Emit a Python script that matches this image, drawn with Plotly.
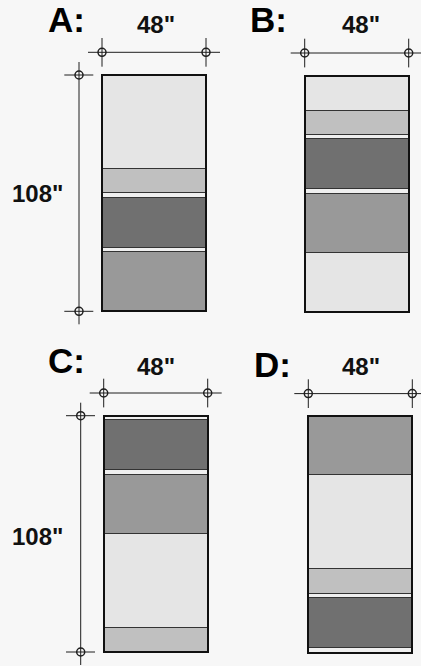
import plotly.graph_objects as go

# ---------------- data ----------------
panels = ["A", "B", "C", "D"]
panel_width_in = 48
panel_height_in = 108

bands_A = [43, 11, 2, 23, 2, 27]
kinds_A = ["light", "lightmid", "stripe", "dark", "stripe", "mid"]
bands_B = [16, 11, 2, 23, 2, 27, 27]
kinds_B = ["light", "lightmid", "stripe", "dark", "stripe", "mid", "light"]
bands_C = [2, 23, 2, 27, 43, 11]
kinds_C = ["stripe", "dark", "stripe", "mid", "light", "lightmid"]
bands_D = [27, 43, 11, 2, 23, 2]
kinds_D = ["mid", "light", "lightmid", "stripe", "dark", "stripe"]

# ---------------- styles / layout ----------------
W, H = 421, 666
SX = 104 / 48.0     # px per inch horizontally
SY = 236.3 / 108.0  # px per inch vertically
BG = "#f7f7f7"
INK = "#1e1e1e"
colors = {"light": "#e5e5e5", "lightmid": "#c0c0c0", "stripe": "#efefef",
          "dark": "#707070", "mid": "#999999"}

# px positions: rect left/top (outline centre), label centres
layout_px = {
    "A": dict(left=102, top=75, lab=(66.5, 20), w=(155.5, 25), h=(37.5, 193), vdim=True),
    "B": dict(left=304.7, top=75.7, lab=(268, 20), w=(360.5, 25), h=None, vdim=False),
    "C": dict(left=103.7, top=415.7, lab=(66.7, 360), w=(156, 366), h=(37.5, 536), vdim=True),
    "D": dict(left=308.3, top=416.3, lab=(272, 364.5), w=(360.5, 366), h=None, vdim=False),
}
bands = {"A": (bands_A, kinds_A), "B": (bands_B, kinds_B),
         "C": (bands_C, kinds_C), "D": (bands_D, kinds_D)}


def ix(px):
    return px / SX


def iy(py):
    return py / SY


fig = go.Figure()
annotations = []

for p in panels:
    L = layout_px[p]
    x0 = ix(L["left"])
    y0 = iy(L["top"])
    cx = x0 + panel_width_in / 2
    heights, kinds = bands[p]
    bases = []
    acc = y0
    for h in heights:
        bases.append(acc)
        acc += h
    fig.add_trace(go.Bar(
        x=[cx] * len(heights), y=heights, base=bases,
        width=[panel_width_in] * len(heights),
        marker=dict(color=[colors[k] for k in kinds],
                    line=dict(color="#333333", width=1)),
        hoverinfo="skip", showlegend=False))
    # outer outline
    fig.add_trace(go.Bar(
        x=[cx], y=[panel_height_in], base=[y0], width=[panel_width_in],
        marker=dict(color="rgba(0,0,0,0)", line=dict(color="#111111", width=2)),
        hoverinfo="skip", showlegend=False))

    x1 = x0 + panel_width_in
    y1 = y0 + panel_height_in
    # horizontal dimension line
    dy = y0 - iy(22.7)
    lx, ly = [], []
    lx += [x0 - ix(14), x1 + ix(14), None]
    ly += [dy, dy, None]
    for xx in (x0, x1):
        lx += [xx, xx, None]
        ly += [y0 - iy(37), y0 - iy(8.3), None]
    mx = [x0, x1]
    my = [dy, dy]
    if L["vdim"]:
        vx = x0 - ix(23)
        lx += [vx, vx, None]
        ly += [y0 - iy(13), y1 + iy(13), None]
        for yy in (y0, y1):
            lx += [x0 - ix(37.7), x0 - ix(8.7), None]
            ly += [yy, yy, None]
        mx += [vx, vx]
        my += [y0, y1]
    fig.add_trace(go.Scatter(x=lx, y=ly, mode="lines",
                             line=dict(color=INK, width=1),
                             hoverinfo="skip", showlegend=False))
    fig.add_trace(go.Scatter(x=mx, y=my, mode="markers",
                             marker=dict(symbol="circle-open", size=8, color=INK,
                                         line=dict(width=1.5, color=INK)),
                             hoverinfo="skip", showlegend=False))

    fam = "Liberation Sans, Arial, sans-serif"
    annotations.append(dict(x=L["lab"][0] / W, y=1 - L["lab"][1] / H, xref="paper", yref="paper",
                            text=f"{p}:", showarrow=False, xanchor="center", yanchor="middle",
                            font=dict(family=fam, size=35, color="#000000", weight="bold")))
    annotations.append(dict(x=L["w"][0] / W, y=1 - L["w"][1] / H, xref="paper", yref="paper",
                            text=f'{panel_width_in}"', showarrow=False, xanchor="center",
                            yanchor="middle",
                            font=dict(family=fam, size=24, color="#111111", weight="bold")))
    if L["h"] is not None:
        annotations.append(dict(x=L["h"][0] / W, y=1 - L["h"][1] / H, xref="paper", yref="paper",
                                text=f'{panel_height_in}"', showarrow=False, xanchor="center",
                                yanchor="middle",
                                font=dict(family=fam, size=24, color="#111111", weight="bold")))

fig.update_layout(
    width=W, height=H,
    margin=dict(l=0, r=0, t=0, b=0),
    paper_bgcolor=BG, plot_bgcolor=BG,
    barmode="overlay", bargap=0,
    annotations=annotations,
    xaxis=dict(range=[0, W / SX], visible=False, fixedrange=True),
    yaxis=dict(range=[H / SY, 0], visible=False, fixedrange=True),
)

fig.write_html("out.html", config={"displayModeBar": False},
               post_script="document.body.style.margin='0';document.body.style.overflow='hidden';document.body.style.background='" + BG + "';")
